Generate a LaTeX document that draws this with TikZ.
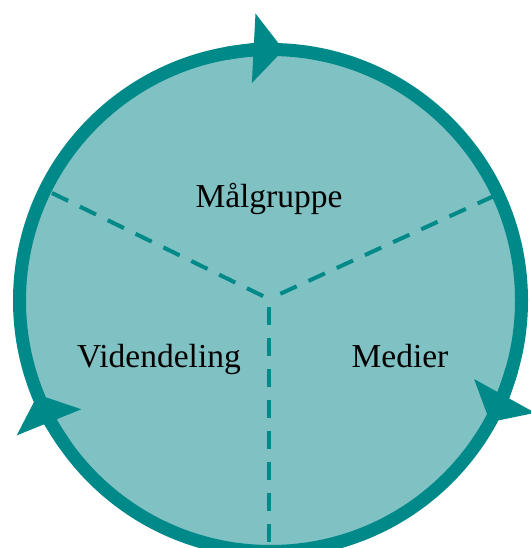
\documentclass[tikz,border=0pt]{standalone}
\usepackage{fontspec}
\setmainfont{Liberation Serif}
\usepackage{xcolor}
\usepackage{tikz}
\usetikzlibrary{arrows.meta}

\definecolor{ringteal}{RGB}{0,137,137}
\definecolor{fillteal}{RGB}{128,193,195}

\begin{document}
\begin{tikzpicture}[x=1pt,y=1pt,
  ring/.style={draw=ringteal,line width=13pt},
  tipArrow/.style={ring,-{Triangle[width=68pt,length=30pt]}},
  divider/.style={draw=ringteal,line width=4pt,dash pattern=on 18pt off 13pt},
  label/.style={font=\fontsize{33.5}{40}\selectfont,text=black,anchor=base,inner sep=0pt}]
\useasboundingbox (0,0) rectangle (530,548);
\coordinate (c) at (270.5,247.5);
\def\wheel{(c) circle (251)}
  \fill[fillteal] \wheel;
  % three sectors
  \coordinate (hub) at (269,249);
  \coordinate (leftEnd) at (52,355);
  \coordinate (rightEnd) at (494,352);
  \coordinate (bottomEnd) at (269,6);
  \draw[divider] (leftEnd) -- (hub);
  \draw[divider] (rightEnd) -- (hub);
  \draw[divider] (bottomEnd) -- (hub);
  \draw[ring] \wheel;
  % arrow heads, clockwise
  \draw[tipArrow] ([shift={(c)}]100:251) arc[start angle=100,end angle=87,radius=251];
  \draw[tipArrow] ([shift={(c)}]-16:251) arc[start angle=-16,end angle=-29,radius=251];
  \draw[tipArrow] ([shift={(c)}]215:251) arc[start angle=215,end angle=202,radius=251];
  \node[label] (maal) at (269,340) {Målgruppe};
  \node[label] (viden) at (159,180) {Videndeling};
  \node[label] (medier) at (400,180) {Medier};
\end{tikzpicture}
\end{document}
